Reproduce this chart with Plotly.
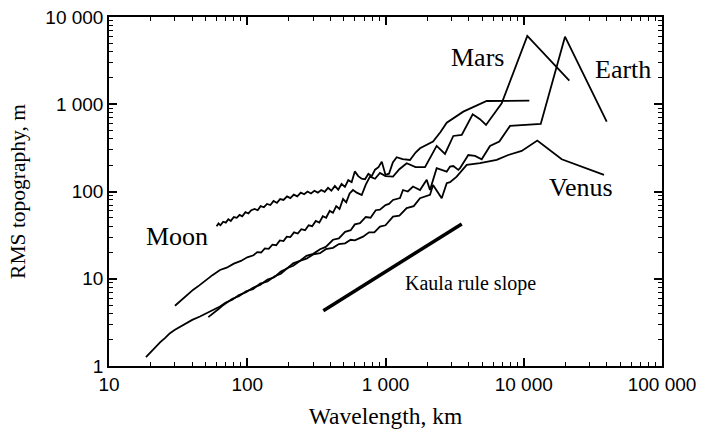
import plotly.graph_objects as go

# ---------------- data (wavelength km, RMS topography m) ----------------
moon_wl = [60, 62, 64, 67, 70, 73, 76, 80, 84, 88, 92, 97, 102, 107, 113, 119, 125, 132, 139, 147,
           155, 164, 173, 183, 194, 205, 217, 230, 244, 258, 273, 289, 306, 324, 343, 363, 384,
           406, 430, 455, 481, 509, 538, 569, 600, 635, 672, 711, 752, 795, 840, 890, 940, 1000,
           1060, 1130, 1205, 1330, 1504, 1650, 1777, 1950, 2207, 2500, 2772, 3654, 5395, 10970]
moon_rms = [40, 43, 41, 45, 44, 48, 46, 51, 50, 54, 52, 58, 56, 61, 63, 61, 68, 66, 72, 70,
            78, 74, 82, 80, 88, 84, 92, 88, 97, 93, 100, 95, 102, 97, 104, 99, 110,
            102, 116, 105, 122, 113, 135, 128, 170, 150, 140, 138, 160, 150, 178, 190, 220, 155,
            160, 215, 247, 235, 230, 280, 313, 340, 373, 480, 615, 823, 1090, 1100]

mars_wl = [30, 33, 36, 40.7, 45, 50, 56, 63.5, 71, 80, 90, 100, 111, 118, 126, 134, 143, 152, 162,
           172, 183, 193, 205, 218, 232, 246, 262, 278, 295, 313, 332, 352, 372, 395, 417, 440,
           465, 493, 520, 550, 582, 620, 673, 720, 772, 840, 912, 1000, 1133, 1260, 1423, 1650,
           1931, 2345, 2694, 3093, 3560, 4273, 4825, 5333, 6926, 10610, 21360]
mars_rms = [4.9, 5.6, 6.3, 7.5, 8.4, 9.6, 11.0, 12.6, 13.4, 14.9, 16.0, 17.6, 18.6, 20.2, 20.0, 22.3,
            22.0, 24.6, 24.2, 27.5, 27.0, 30.4, 30, 34, 33, 37, 36, 41, 40, 46, 44, 52, 50, 60, 57,
            68, 63, 82, 75, 95, 104, 97, 91, 120, 148, 140, 163, 150, 148, 180, 211, 190,
            190, 333, 270, 433, 445, 768, 675, 579, 1027, 6060, 1863]

earth_wl = [18.5, 19.5, 20.5, 22, 23.5, 25.5, 27.6, 30, 33, 36, 40, 45.5, 50, 56, 63.5, 70, 78, 87,
            98, 110, 124, 140, 157, 175, 194, 215, 240, 268, 300, 336, 370, 417, 460, 510, 560,
            600, 654, 720, 780, 850, 912, 1000, 1060, 1133, 1273, 1338, 1450, 1581, 1777, 1986,
            2098, 2345, 2772, 2929, 3093, 3363, 3459, 3971, 4441, 4964, 5700, 6657, 7954, 13270,
            19880, 39810]
earth_rms = [1.26, 1.38, 1.52, 1.7, 1.88, 2.1, 2.38, 2.6, 2.85, 3.1, 3.38, 3.69, 3.95, 4.35, 4.8, 5.35,
             5.75, 6.5, 7.0, 7.9, 8.5, 9.8, 10.4, 12.1, 13.1, 15.0, 16.0, 18.3, 19.3, 21.8, 23.2, 28,
             29, 34.5, 36, 42, 43.3, 51, 50, 61, 62, 70, 72, 80, 84, 104, 100, 114, 104, 136,
             104, 185, 169, 193, 196, 177, 185, 262, 256, 234, 333, 373, 564, 595,
             5950, 632]

venus_wl = [52.3, 55, 58, 62, 66, 70, 78, 87, 98, 110, 124, 140, 157, 175, 194, 215, 240, 268, 300,
            336, 370, 417, 460, 510, 560, 600, 688, 760, 830, 912, 1000, 1133, 1260, 1423, 1600,
            1777, 2098, 2207, 2550, 2772, 2929, 3273, 3868, 4825, 6373, 7727, 9663, 12530,
            18820, 38060]
venus_rms = [3.63, 3.85, 4.1, 4.5, 4.9, 5.2, 5.9, 6.3, 7.2, 7.6, 8.8, 9.3, 10.6, 11.4, 13.2, 14.1,
             16.0, 17.0, 19.0, 19.6, 21.8, 22.6, 25.0, 25.5, 28, 27.5, 30.4, 34, 34, 39.6, 41, 51.6,
             53, 64.4, 68, 83.8, 91.4, 119, 83.8, 124.5, 128, 148, 202, 211, 230, 262, 292, 383,
             234, 155]

kaula_wl = [355, 3560]
kaula_rms = [4.3, 42.5]

x_tick_vals = [10, 100, 1000, 10000, 100000]
x_tick_text = ["10", "100", "1\u00a0000", "10\u00a0000", "100\u00a0000"]
y_tick_vals = [1, 10, 100, 1000, 10000]
y_tick_text = ["1", "10", "100", "1\u00a0000", "10\u00a0000"]
x_minor_vals = [m * 10 ** k for k in range(1, 5) for m in range(2, 10)]
y_minor_vals = [m * 10 ** k for k in range(0, 4) for m in range(2, 10)]

labels = ["Moon", "Mars", "Earth", "Venus", "Kaula rule slope"]

# ---------------- figure ----------------
fig = go.Figure()
line_style = dict(color="black", width=1.8)
for name, wl, rms in [("Moon", moon_wl, moon_rms), ("Mars", mars_wl, mars_rms),
                      ("Earth", earth_wl, earth_rms), ("Venus", venus_wl, venus_rms)]:
    fig.add_trace(go.Scatter(x=wl, y=rms, mode="lines", name=name, line=line_style,
                             showlegend=False))
fig.add_trace(go.Scatter(x=kaula_wl, y=kaula_rms, mode="lines", name="Kaula rule slope",
                         line=dict(color="black", width=3.5), showlegend=False))
# invisible carrier trace so the overlay (minor-tick) axes get drawn
fig.add_trace(go.Scatter(x=kaula_wl, y=kaula_rms, mode="lines", xaxis="x2", yaxis="y2",
                         line=dict(color="rgba(0,0,0,0)", width=0), hoverinfo="skip",
                         showlegend=False))

tickfont = dict(family="Liberation Sans, Arial, sans-serif", size=19, color="black")
axis_common = dict(
    type="log", showline=True, linecolor="black", linewidth=1.5, mirror="ticks",
    ticks="inside", ticklen=8, tickwidth=1.5, tickcolor="black",
    showgrid=False, zeroline=False, automargin=False,
    ticklabeloverflow="allow", tickfont=tickfont,
)
minor_common = dict(type="log", tickmode="array", ticks="inside", ticklen=4,
                    tickwidth=1.2, tickcolor="black", showticklabels=False, showline=True,
                    linecolor="black", linewidth=1.5, mirror="ticks", showgrid=False,
                    zeroline=False, automargin=False)
serif = "Liberation Serif, Times New Roman, serif"
fig.update_layout(
    xaxis=dict(**axis_common, range=[1, 5], tickmode="array",
               tickvals=x_tick_vals, ticktext=x_tick_text,
               title=dict(text="Wavelength, km", standoff=14,
                          font=dict(family=serif, size=23.5, color="black"))),
    yaxis=dict(**axis_common, range=[0, 4], tickmode="array",
               tickvals=y_tick_vals, ticktext=y_tick_text,
               title=dict(text="RMS topography, m", standoff=14,
                          font=dict(family=serif, size=21.5, color="black"))),
    xaxis2=dict(**minor_common, range=[1, 5], overlaying="x", anchor="y2", side="bottom",
                tickvals=x_minor_vals),
    yaxis2=dict(**minor_common, range=[0, 4], overlaying="y", anchor="x2", side="left",
                tickvals=y_minor_vals),
)

ann_pos = {"Moon": (0.123, 0.372, 26), "Mars": (0.667, 0.883, 26), "Earth": (0.9295, 0.851, 26),
           "Venus": (0.8544, 0.511, 26), "Kaula rule slope": (0.6537, 0.235, 20)}
for lab in labels:
    x, y, s = ann_pos[lab]
    fig.add_annotation(text=lab, x=x, y=y, xref="paper", yref="paper", showarrow=False,
                       xanchor="center", yanchor="middle",
                       font=dict(family=serif, size=s, color="black"))

fig.update_layout(template="simple_white", width=703, height=436,
                  margin=dict(l=109, r=41, t=17, b=70, autoexpand=False),
                  plot_bgcolor="white", paper_bgcolor="white")

# remove the page's default 8px body margin so the figure sits at the window's corner
fig.write_html("out.html", config={"displayModeBar": False},
               post_script="document.body.style.margin='0';")
